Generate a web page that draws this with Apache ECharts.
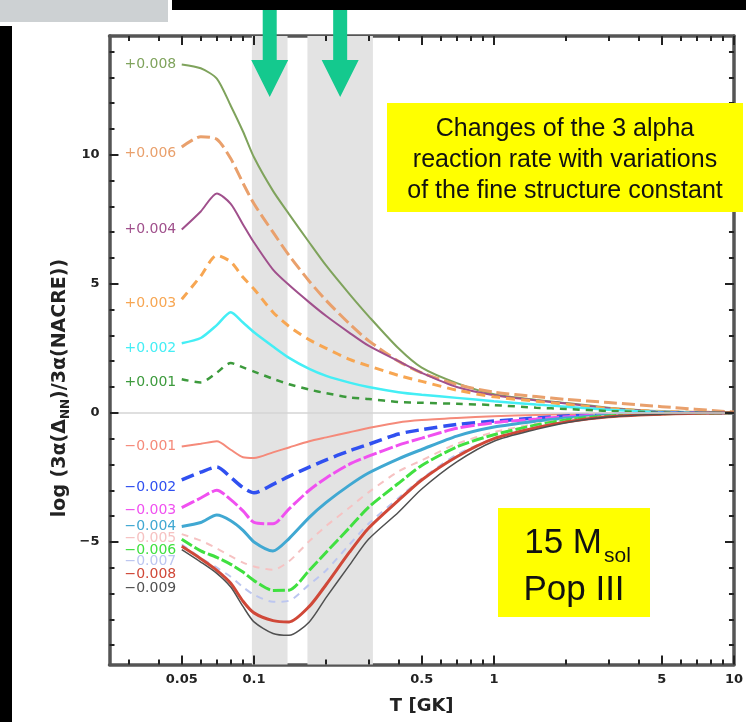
<!DOCTYPE html>
<html><head><meta charset="utf-8">
<script src="https://cdn.jsdelivr.net/npm/echarts@6/dist/echarts.min.js"></script>
<style>html,body{margin:0;padding:0;background:#fff;}#c{width:746px;height:722px;}</style>
</head><body><div id="c"></div>
<script>
// ---------- data ----------
const T = [0.05,0.06,0.07,0.08,0.09,0.1,0.12,0.14,0.17,0.2,0.25,0.3,0.4,0.5,0.7,1,1.5,2,3,5,10];
const seriesNames = ['+0.008','+0.006','+0.004','+0.003','+0.002','+0.001',
  '\u22120.001','\u22120.002','\u22120.003','\u22120.004','\u22120.005','\u22120.006','\u22120.007','\u22120.008','\u22120.009'];
const p008 = [13.5,13.35,12.95,11.9,10.9,9.9,8.6,7.7,6.6,5.7,4.6,3.75,2.5,1.75,1.15,0.72,0.5,0.38,0.2,0.06,0.01];
const p006 = [10.3,10.7,10.6,9.85,8.9,8.1,7.0,6.1,5.1,4.35,3.45,2.8,2.0,1.55,1.1,0.8,0.63,0.52,0.4,0.24,0.03];
const p004 = [7.1,7.8,8.5,8.1,7.3,6.6,5.55,4.95,4.28,3.75,3.1,2.6,2.0,1.55,1.0,0.68,0.48,0.36,0.18,0.05,0.01];
const p003 = [4.4,5.3,6.1,5.85,5.25,4.8,3.9,3.35,2.83,2.5,2.07,1.82,1.45,1.22,0.88,0.62,0.45,0.33,0.17,0.05,0.01];
const p002 = [2.7,2.9,3.4,3.9,3.5,3.12,2.57,2.13,1.7,1.43,1.17,1.0,0.8,0.7,0.58,0.45,0.32,0.24,0.12,0.03,0.01];
const p001 = [1.3,1.18,1.56,1.93,1.76,1.6,1.32,1.11,0.9,0.76,0.6,0.54,0.42,0.39,0.35,0.3,0.2,0.15,0.07,0.02,0.0];
const m001 = [-1.3,-1.2,-1.1,-1.43,-1.72,-1.75,-1.53,-1.34,-1.1,-0.95,-0.75,-0.59,-0.37,-0.28,-0.2,-0.13,-0.08,-0.05,-0.02,-0.01,0];
const m002 = [-2.6,-2.3,-2.1,-2.5,-2.9,-3.1,-2.77,-2.46,-2.1,-1.82,-1.47,-1.22,-0.82,-0.65,-0.45,-0.32,-0.2,-0.12,-0.06,-0.02,0];
const m003 = [-3.67,-3.3,-3.0,-3.36,-3.8,-4.24,-4.3,-3.72,-3.0,-2.52,-1.99,-1.68,-1.25,-0.98,-0.6,-0.38,-0.24,-0.15,-0.07,-0.02,0];
const m004 = [-4.4,-4.25,-3.96,-4.18,-4.55,-5.0,-5.35,-4.87,-4.05,-3.47,-2.8,-2.33,-1.78,-1.42,-0.9,-0.55,-0.32,-0.2,-0.09,-0.03,0];
const m005 = [-4.7,-4.95,-5.25,-5.55,-5.8,-5.95,-6.08,-5.75,-4.97,-4.38,-3.67,-3.08,-2.27,-1.84,-1.2,-0.75,-0.42,-0.26,-0.11,-0.04,0];
const m006 = [-4.9,-5.35,-5.6,-5.87,-6.17,-6.5,-6.88,-6.87,-6.1,-5.4,-4.45,-3.66,-2.73,-2.04,-1.32,-0.85,-0.47,-0.28,-0.12,-0.04,0];
const m007 = [-5.1,-5.62,-6.0,-6.35,-6.75,-7.05,-7.32,-7.28,-6.65,-6.1,-5.1,-4.3,-3.3,-2.55,-1.62,-1.0,-0.55,-0.33,-0.14,-0.05,0];
const m008 = [-5.17,-5.65,-6.1,-6.6,-7.3,-7.75,-8.05,-8.1,-7.5,-6.65,-5.4,-4.47,-3.39,-2.6,-1.7,-1.0,-0.58,-0.35,-0.15,-0.05,0];
const m009 = [-5.3,-5.78,-6.22,-6.75,-7.5,-8.1,-8.55,-8.62,-8.1,-7.15,-5.9,-4.9,-3.85,-2.95,-1.9,-1.1,-0.64,-0.38,-0.16,-0.05,0];
const seriesValues = [p008,p006,p004,p003,p002,p001,m001,m002,m003,m004,m005,m006,m007,m008,m009];

const xMajor = [0.05,0.1,0.5,1,5,10];
const xTickLabels = ['0.05','0.1','0.5','1','5','10'];
const xMinor = [0.03,0.04,0.06,0.07,0.08,0.09,0.2,0.3,0.4,0.6,0.7,0.8,0.9,2,3,4,6,7,8,9];
const yMajor = [-5,0,5,10];
const yTickLabels = ['\u22125','0','5','10'];
const yMinor = [-9,-8,-7,-6,-4,-3,-2,-1,1,2,3,4,6,7,8,9,11,12,13,14];
const bands = [[0.098,0.138],[0.167,0.313]];
const xRange = [0.025, 10];
const yRange = [-9.75, 14.6];

// ---------- styles / layout (not data) ----------
const styles = [
  {c:'#7fa35c', w:2,   d:'solid', dy:0},
  {c:'#e9a06c', w:3,   d:[13,5], dy:6},
  {c:'#a0508c', w:2,   d:'solid', dy:0},
  {c:'#f7a652', w:3,   d:[9,6],  dy:4},
  {c:'#44eef5', w:2.5, d:'solid', dy:5},
  {c:'#3c9a3c', w:2.5, d:[7,6],  dy:3},
  {c:'#f58a7a', w:2,   d:'solid', dy:0},
  {c:'#3050f0', w:3.5, d:[13,6], dy:7},
  {c:'#f050f0', w:3,   d:[14,3], dy:3},
  {c:'#40a8d2', w:3,   d:'solid', dy:0},
  {c:'#f6c2c2', w:2,   d:[7,6],  dy:4},
  {c:'#40e040', w:3,   d:[12,3], dy:11},
  {c:'#bcc6f0', w:2,   d:[7,6],  dy:17},
  {c:'#d04838', w:3,   d:'solid', dy:28},
  {c:'#505050', w:1.5, d:'solid', dy:39}
];
const W = 746, H = 722;
const gridBox = {left:109.5, right:10.5, top:36, bottom:57.5};
const frame = {color:'#555', width:3.5};
const labelFont = {fontFamily:'DejaVu Sans', fontWeight:'bold', fontSize:13, color:'#222'};
const arrowColor = '#14c98e';
const arrowPath = 'path://M11.5 0L25.5 0L25.5 50L37 50L18.5 87L0 50L11.5 50Z';
const majorLen = 9, minorLen = 5;   // tick lengths in px

const L = v => Math.log10(v);
const x0 = L(xRange[0]), x1 = L(xRange[1]);
const unitX = (x1 - x0) / (W - gridBox.left - gridBox.right);        // axis units per px
const unitY = (yRange[1] - yRange[0]) / (H - gridBox.top - gridBox.bottom);

function xAx(pos, withLabels) {
  const a = {
    type:'value', min:x0, max:x1, position:pos,
    axisLine:{show:true, onZero:false, lineStyle:frame}, splitLine:{show:false},
    axisTick:{show:false}, axisLabel:{show:false}
  };
  if (withLabels) {
    a.axisLabel = Object.assign({show:true, margin:9, customValues:xMajor.map(L),
      formatter: v => { let bi=0, bd=1e9; xMajor.forEach((m,i)=>{const d=Math.abs(L(m)-v); if(d<bd){bd=d;bi=i;}}); return xTickLabels[bi]; }
    }, labelFont);
    a.name = 'T [GK]'; a.nameLocation = 'middle'; a.nameGap = 33;
    a.nameTextStyle = {fontFamily:'DejaVu Sans', fontWeight:'bold', fontSize:18, color:'#222'};
  }
  return a;
}
function yAx(pos, withLabels) {
  const a = {
    type:'value', min:yRange[0], max:yRange[1], position:pos,
    axisLine:{show:true, onZero:false, lineStyle:frame}, splitLine:{show:false},
    axisTick:{show:false}, axisLabel:{show:false}
  };
  if (withLabels) {
    a.axisLabel = Object.assign({show:true, margin:10, customValues:yMajor,
      formatter: v => { const i = yMajor.indexOf(Math.round(v)); return i>=0 ? yTickLabels[i] : ''; }
    }, labelFont);
  }
  return a;
}

// mirrored inside ticks as marker segments in axis coordinates
const tickSegs = [];
const seg = (a, b) => tickSegs.push([{coord:a}, {coord:b}]);
[[xMajor, majorLen], [xMinor, minorLen]].forEach(([vals, len]) => vals.forEach(v => {
  const x = L(v);
  seg([x, yRange[0]], [x, yRange[0] + len*unitY]);
  seg([x, yRange[1]], [x, yRange[1] - len*unitY]);
}));
[[yMajor, majorLen], [yMinor, minorLen]].forEach(([vals, len]) => vals.forEach(v => {
  seg([x0, v], [x0 + len*unitX, v]);
  seg([x1, v], [x1 - len*unitX, v]);
}));

const series = [{
  type:'line', data:[], silent:true, z:1, clip:false,
  markArea:{silent:true, itemStyle:{color:'#e3e3e3'}, data: bands.map(b => [{xAxis:L(b[0])},{xAxis:L(b[1])}])},
  markLine:{silent:true, symbol:'none', label:{show:false}, lineStyle:{color:'#d4d4d4', width:1.5, type:'solid'}, data:[{yAxis:0}]},
  markPoint:{silent:true, data: bands.map(b => ({
    coord:[(L(b[0])+L(b[1]))/2, yRange[1]], symbol:arrowPath, symbolSize:[37,87], symbolKeepAspect:false,
    symbolOffset:[0,17.5], itemStyle:{color:arrowColor}, label:{show:false}}))}
}];
seriesValues.forEach((vals, k) => {
  const st = styles[k];
  series.push({
    type:'line', name:seriesNames[k], z:2, silent:true, smooth:0.25,
    symbol:'none', showSymbol:true,
    lineStyle:{color:st.c, width:st.w, type:st.d},
    itemStyle:{color:st.c},
    data: T.map((t,i) => i === 0 ? {
      value:[L(t), vals[i]], symbol:'circle', symbolSize:1, itemStyle:{color:'rgba(0,0,0,0)'},
      label:{show:true, position:'left', distance:5, offset:[0, st.dy], formatter:seriesNames[k],
             color:st.c, fontFamily:'DejaVu Sans', fontSize:14}
    } : [L(t), vals[i]])
  });
});
series.push({
  type:'line', data:[], silent:true, z:3, clip:false,
  markLine:{silent:true, symbol:'none', label:{show:false}, emphasis:{disabled:true},
    lineStyle:{color:'#222', width:2, type:'solid'}, data: tickSegs}
});

const graphics = [
  {type:'rect', shape:{x:0,y:0,width:168,height:22}, style:{fill:'#cdd1d3'}, z:100},
  {type:'rect', shape:{x:172,y:0,width:574,height:10}, style:{fill:'#000'}, z:100},
  {type:'rect', shape:{x:0,y:26,width:12,height:696}, style:{fill:'#000'}, z:100},
  {type:'rect', z:100, shape:{x:387,y:103,width:356,height:109}, style:{fill:'#ffff00'}},
  {type:'rect', z:100, shape:{x:498,y:508,width:152,height:109}, style:{fill:'#ffff00'}},
  {type:'text', z:101, x:602, y:543, style:{text:'15 M', fill:'#111', font:'35px "Liberation Sans"', textAlign:'right', textVerticalAlign:'middle'}},
  {type:'text', z:101, x:604, y:556, style:{text:'sol', fill:'#111', font:'21px "Liberation Sans"', textAlign:'left', textVerticalAlign:'middle'}},
  {type:'text', z:101, x:574, y:590, style:{text:'Pop III', fill:'#111', font:'35px "Liberation Sans"', textAlign:'center', textVerticalAlign:'middle'}},
  {type:'text', z:101, x:60, y:388, rotation:Math.PI/2,
    style:{text:'{m|log (3\u03b1(\u0394}{s|NN}{m|)/3\u03b1(NACRE))}', textAlign:'center', textVerticalAlign:'middle',
      rich:{m:{fontFamily:'DejaVu Sans', fontWeight:'bold', fontSize:19, fill:'#222'},
            s:{fontFamily:'DejaVu Sans', fontWeight:'bold', fontSize:12, fill:'#222', padding:[11,0,0,0]}}}}
];
['Changes of the 3 alpha','reaction rate with variations','of the fine structure constant'].forEach((s,i) => {
  graphics.push({type:'text', z:101, x:565, y:129 + i*31, style:{text:s, fill:'#111', font:'25px "Liberation Sans"', textAlign:'center', textVerticalAlign:'middle'}});
});

const chart = echarts.init(document.getElementById('c'), null, {renderer:'canvas'});
chart.setOption({
  animation:false,
  backgroundColor:'#ffffff',
  grid:gridBox,
  xAxis:[xAx('bottom', true), xAx('top', false)],
  yAxis:[yAx('left', true), yAx('right', false)],
  series: series,
  graphic: graphics
});
</script>
</body></html>
